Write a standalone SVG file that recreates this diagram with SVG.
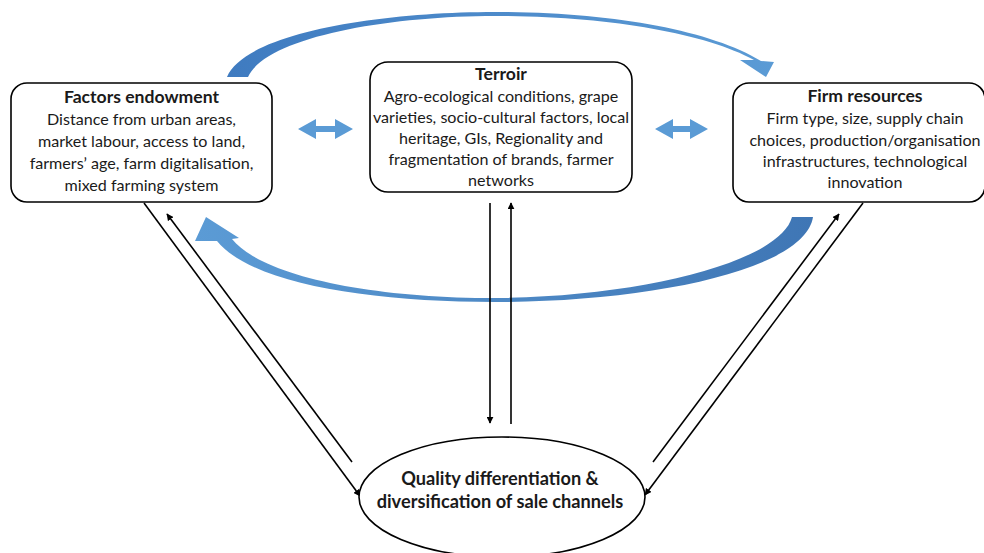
<svg xmlns="http://www.w3.org/2000/svg" width="984" height="553" viewBox="0 0 984 553">
<style>
.box{fill:#fff;stroke:#000;stroke-width:1.6}
.t{font-family:Lato,"Liberation Sans",sans-serif;font-size:16.1px;fill:#1a1a1a;text-anchor:middle}
.b{font-weight:bold;font-size:17.6px}
.q{font-weight:bold;font-size:18.2px}
.ln{stroke:#000;stroke-width:1.6;fill:none}
.dbl{fill:#5b9bd5}
</style>
<defs>
<marker id="ah" viewBox="0 0 10 10" refX="9" refY="5" markerWidth="7" markerHeight="7" markerUnits="userSpaceOnUse" orient="auto">
<path d="M0,0 L10,5 L0,10 Z" fill="#000"/>
</marker>
<linearGradient id="gTop" x1="0" y1="0" x2="1" y2="0">
<stop offset="0" stop-color="#3f7bc0"/>
<stop offset="1" stop-color="#5b9bd5"/>
</linearGradient>
<linearGradient id="gBot" x1="0" y1="0" x2="1" y2="0">
<stop offset="0" stop-color="#5b9bd5"/>
<stop offset="1" stop-color="#3f76b5"/>
</linearGradient>
</defs>
<rect width="984" height="553" fill="#fff"/>

<g id="connectors">
<path id="arc-top" fill="url(#gTop)" d="M227,77 C245,33 380,12 495,12 C610,12 710,30 761,61 L774,62 L766,77 L740,60 L754,60 C705,33 605,16 495,16 C385,16 265,38 248,77 Z"/>
<path id="arc-bottom" fill="url(#gBot)" d="M792,217 C780,262 640,297 495,298 C370,298 262,276 232,239 L239,238 L206,217 L195,241 L217,241 C252,284 370,302 495,302 C650,302 805,270 813,217 Z"/>
<path id="dbl-left" class="dbl" d="M298,129 L316,119 L316,126 L335,126 L335,119 L353,129 L335,139 L335,132 L316,132 L316,139 Z"/>
<path id="dbl-right" class="dbl" d="M655,129 L673,119 L673,126 L690,126 L690,119 L708,129 L690,139 L690,132 L673,132 L673,139 Z"/>
<line class="ln" x1="490" y1="203" x2="490" y2="423" marker-end="url(#ah)"/>
<line class="ln" x1="511" y1="424" x2="511" y2="203" marker-end="url(#ah)"/>
<line class="ln" x1="144" y1="203" x2="360" y2="496" marker-end="url(#ah)"/>
<line class="ln" x1="352" y1="462" x2="167" y2="214" marker-end="url(#ah)"/>
<line class="ln" x1="863" y1="203" x2="645" y2="495" marker-end="url(#ah)"/>
<line class="ln" x1="653" y1="462" x2="839" y2="214" marker-end="url(#ah)"/>
</g>

<g id="node-factors">
<rect class="box" x="11" y="83" width="261" height="119" rx="16"/>
<text class="t b" x="141.5" y="103">Factors endowment</text>
<text class="t" x="141.5" y="125">Distance from urban areas,</text>
<text class="t" x="141.5" y="147">market labour, access to land,</text>
<text class="t" x="141.5" y="169">farmers’ age, farm digitalisation,</text>
<text class="t" x="141.5" y="191">mixed farming system</text>
</g>

<g id="node-terroir">
<rect class="box" x="370" y="62" width="262" height="130" rx="18"/>
<text class="t b" x="501" y="80">Terroir</text>
<text class="t" x="501" y="102">Agro-ecological conditions, grape</text>
<text class="t" x="501" y="123">varieties, socio-cultural factors, local</text>
<text class="t" x="501" y="144">heritage, GIs, Regionality and</text>
<text class="t" x="501" y="165">fragmentation of brands, farmer</text>
<text class="t" x="501" y="186">networks</text>
</g>

<g id="node-firm">
<rect class="box" x="733" y="83" width="252" height="119" rx="16"/>
<text class="t b" x="865" y="102">Firm resources</text>
<text class="t" x="865" y="124">Firm type, size, supply chain</text>
<text class="t" x="865" y="146">choices, production/organisation</text>
<text class="t" x="865" y="167">infrastructures, technological</text>
<text class="t" x="865" y="188">innovation</text>
</g>

<g id="node-quality">
<ellipse class="box" cx="502" cy="497" rx="143" ry="60"/>
<text class="t q" x="500" y="485">Quality differentiation &amp;</text>
<text class="t q" x="500" y="508">diversification of sale channels</text>
</g>
</svg>
